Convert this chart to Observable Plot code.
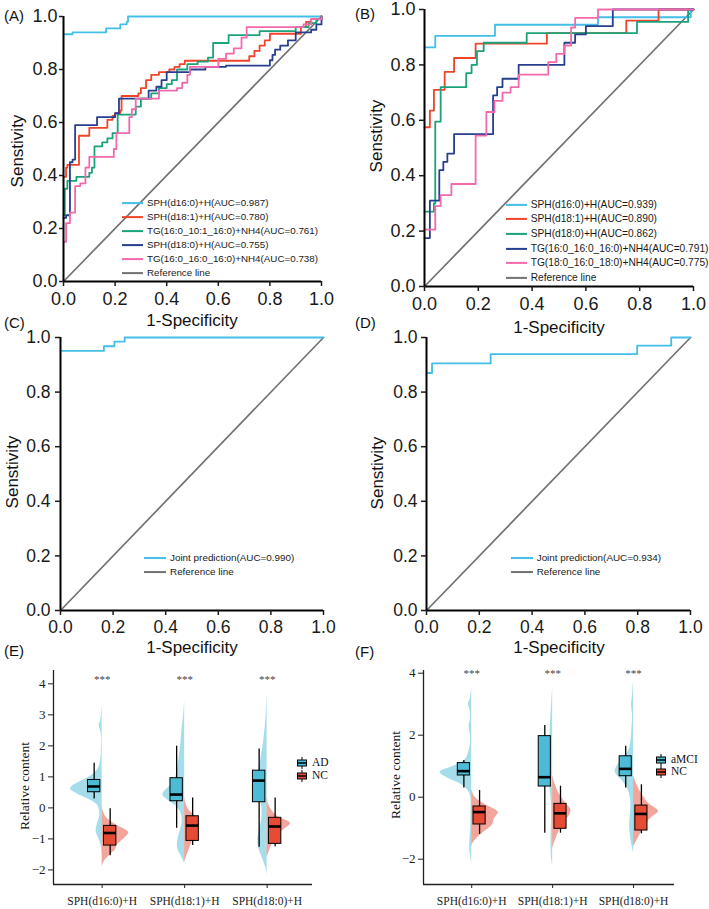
<!DOCTYPE html>
<html><head><meta charset="utf-8">
<script src="https://cdn.jsdelivr.net/npm/d3@7"></script>
<script src="https://cdn.jsdelivr.net/npm/@observablehq/plot@0.6"></script>
<style>
body{margin:0;background:#fff;}
#root{position:relative;width:709px;height:909px;overflow:hidden;background:#fff;}
.abs{position:absolute;white-space:nowrap;line-height:1;}
.psvg{position:absolute;max-width:none !important;}
</style></head>
<body><div id="root"></div>
<script>
// ---------------- DATA ----------------
const rocTicks = [0, 0.2, 0.4, 0.6, 0.8, 1.0];
const refLine = [[0, 0], [1, 1]];
const refName = "Reference line";

// Panel A ROC: [1-specificity, sensitivity] step corners
const aSph160 = [[0,0.933],[0.035,0.94],[0.165,0.955],[0.22,0.97],[0.245,0.98],[0.25,1],[1,1]];
const aSph181 = [[0,0.395],[0.01,0.43],[0.015,0.44],[0.06,0.55],[0.1,0.58],[0.17,0.61],[0.19,0.625],[0.2,0.635],[0.22,0.645],[0.225,0.70],[0.29,0.71],[0.3,0.73],[0.32,0.76],[0.34,0.78],[0.37,0.79],[0.41,0.80],[0.43,0.81],[0.45,0.82],[0.47,0.833],[0.72,0.85],[0.74,0.87],[0.76,0.89],[0.78,0.91],[0.8,0.935],[0.92,0.96],[0.94,0.98],[0.96,0.99],[1,1]];
const aTg16101 = [[0,0.25],[0.005,0.35],[0.015,0.38],[0.05,0.395],[0.1,0.41],[0.11,0.43],[0.12,0.51],[0.15,0.525],[0.17,0.54],[0.19,0.56],[0.21,0.63],[0.28,0.66],[0.3,0.69],[0.34,0.71],[0.37,0.73],[0.4,0.745],[0.42,0.76],[0.44,0.80],[0.48,0.82],[0.52,0.83],[0.56,0.845],[0.58,0.90],[0.64,0.93],[0.76,0.945],[0.9,0.96],[0.95,0.975],[0.98,0.99],[1,1]];
const aSph180 = [[0,0.24],[0.01,0.25],[0.025,0.45],[0.035,0.46],[0.045,0.59],[0.13,0.62],[0.2,0.635],[0.215,0.69],[0.33,0.72],[0.36,0.735],[0.38,0.76],[0.4,0.79],[0.49,0.80],[0.55,0.81],[0.63,0.815],[0.8,0.835],[0.81,0.855],[0.82,0.875],[0.84,0.89],[0.87,0.91],[0.9,0.94],[0.96,0.95],[0.98,0.97],[1,1]];
const aTg16160 = [[0,0.15],[0.01,0.22],[0.025,0.26],[0.045,0.36],[0.065,0.37],[0.085,0.43],[0.1,0.47],[0.195,0.50],[0.205,0.56],[0.255,0.62],[0.265,0.65],[0.28,0.69],[0.37,0.72],[0.44,0.73],[0.46,0.75],[0.48,0.78],[0.49,0.81],[0.6,0.84],[0.63,0.86],[0.66,0.88],[0.69,0.92],[0.71,0.96],[0.93,0.97],[0.96,0.99],[1,1]];
const namesA = ["SPH(d16:0)+H", "SPH(d18:1)+H", "TG(16:0_10:1_16:0)+NH4", "SPH(d18:0)+H", "TG(16:0_16:0_16:0)+NH4"];
const aucA = [0.987, 0.780, 0.761, 0.755, 0.738];

// Panel B ROC
const bSph160 = [[0,0.863],[0.04,0.905],[0.262,0.945],[0.645,0.972],[0.99,1],[1,1]];
const bSph181 = [[0,0.575],[0.02,0.635],[0.035,0.71],[0.075,0.775],[0.11,0.825],[0.19,0.877],[0.455,0.915],[0.75,0.96],[0.87,1],[1,1]];
const bSph180 = [[0,0.27],[0.035,0.30],[0.04,0.595],[0.06,0.72],[0.155,0.77],[0.175,0.80],[0.195,0.85],[0.22,0.88],[0.38,0.915],[0.79,0.955],[0.98,1],[1,1]];
const bTg16160 = [[0,0.175],[0.02,0.31],[0.055,0.42],[0.07,0.45],[0.085,0.48],[0.11,0.55],[0.255,0.69],[0.27,0.72],[0.29,0.75],[0.35,0.80],[0.52,0.88],[0.56,0.91],[0.6,0.94],[0.7,1],[1,1]];
const bTg18160 = [[0,0.205],[0.04,0.29],[0.06,0.33],[0.1,0.37],[0.19,0.545],[0.23,0.63],[0.26,0.67],[0.29,0.70],[0.32,0.72],[0.35,0.765],[0.46,0.81],[0.49,0.84],[0.52,0.87],[0.545,0.935],[0.56,0.97],[0.645,1],[1,1]];
const namesB = ["SPH(d16:0)+H", "SPH(d18:1)+H", "SPH(d18:0)+H", "TG(16:0_16:0_16:0)+NH4", "TG(18:0_16:0_18:0)+NH4"];
const aucB = [0.939, 0.890, 0.862, 0.791, 0.775];

// Panels C, D joint prediction
const cJoint = [[0,0.951],[0.165,0.968],[0.205,0.985],[0.244,1],[1,1]];
const dJoint = [[0,0.87],[0.021,0.905],[0.243,0.939],[0.798,0.97],[0.927,1],[1,1]];
const jointName = "Joint prediction";
const aucC = 0.990, aucD = 0.934;

// Panels E, F raincloud
const boxCats = ["SPH(d16:0)+H", "SPH(d18:1)+H", "SPH(d18:0)+H"];
const sigLabels = ["***", "***", "***"];
const groupsE = ["AD", "NC"];
const groupsF = ["aMCI", "NC"];
const yTicksE = [-2, -1, 0, 1, 2, 3, 4];
const yTicksF = [-2, 0, 2, 4];
// box stats: [lower whisker, q1, median, q3, upper whisker]
const boxE_AD = [[0.29,0.505,0.69,0.90,1.44],[-0.656,0.215,0.43,0.957,1.99],[-1.27,0.183,0.88,1.20,1.90]];
const boxE_NC = [[-1.54,-1.215,-0.81,-0.58,-0.03],[-1.215,-1.065,-0.57,-0.27,0.32],[-1.25,-1.16,-0.60,-0.32,0.32]];
const boxF_MCI = [[0.30,0.70,0.84,1.10,1.18],[-1.16,0.344,0.645,1.97,2.31],[0.30,0.677,0.914,1.32,1.645]];
const boxF_NC = [[-1.20,-0.88,-0.48,-0.30,0.215],[-1.16,-1.02,-0.52,-0.215,0.355],[-1.18,-1.075,-0.54,-0.27,0.40]];
// half-violin profiles: [value, relative density]
const violE_AD = [
  [[3.35,0],[3.0,0.02],[2.8,0.05],[2.65,0.09],[2.5,0.05],[2.3,0.02],[2.0,0.02],[1.6,0.04],[1.3,0.10],[1.1,0.25],[0.9,0.55],[0.7,0.90],[0.6,0.95],[0.45,0.75],[0.3,0.45],[0.1,0.15],[-0.1,0.08],[-0.3,0.08],[-0.55,0.15],[-0.75,0.18],[-0.95,0.12],[-1.15,0.05],[-1.4,0.01],[-1.55,0]],
  [[3.45,0],[3.0,0.03],[2.5,0.08],[2.0,0.12],[1.5,0.18],[1.2,0.22],[0.9,0.30],[0.7,0.45],[0.5,0.63],[0.4,0.65],[0.25,0.50],[0.05,0.25],[-0.2,0.10],[-0.5,0.08],[-0.8,0.15],[-1.0,0.20],[-1.2,0.22],[-1.4,0.18],[-1.6,0.08],[-1.8,0]],
  [[3.65,0],[3.2,0.02],[2.7,0.05],[2.2,0.10],[1.8,0.15],[1.4,0.22],[1.0,0.28],[0.6,0.25],[0.2,0.18],[-0.2,0.15],[-0.6,0.20],[-1.0,0.28],[-1.3,0.25],[-1.6,0.15],[-1.9,0.05],[-2.15,0]]
];
const violE_NC = [
  [[0.13,0],[0.0,0.01],[-0.1,0.03],[-0.3,0.12],[-0.5,0.35],[-0.65,0.60],[-0.8,0.80],[-0.95,0.70],[-1.1,0.55],[-1.2,0.45],[-1.35,0.40],[-1.5,0.25],[-1.7,0.08],[-1.9,0]],
  [[0.35,0],[0.1,0.05],[-0.1,0.15],[-0.3,0.35],[-0.5,0.45],[-0.7,0.40],[-0.9,0.30],[-1.1,0.22],[-1.3,0.15],[-1.5,0.08],[-1.75,0]],
  [[0.35,0],[0.1,0.05],[-0.1,0.15],[-0.3,0.35],[-0.5,0.70],[-0.7,0.50],[-0.9,0.30],[-1.1,0.18],[-1.3,0.10],[-1.5,0.03],[-1.6,0]]
];
const violF_MCI = [
  [[3.55,0],[3.2,0.04],[3.0,0.10],[2.8,0.05],[2.5,0.04],[2.3,0.08],[2.0,0.04],[1.7,0.04],[1.5,0.08],[1.2,0.20],[1.0,0.55],[0.8,0.95],[0.6,0.70],[0.4,0.30],[0.2,0.10],[0,0.03],[-0.5,0.02],[-1.0,0.03],[-1.5,0.06],[-1.8,0.05],[-2.1,0]],
  [[3.55,0],[3.0,0.03],[2.5,0.06],[2.0,0.08],[1.5,0.10],[1.0,0.12],[0.5,0.10],[0,0.05],[-0.5,0.03],[-1.0,0.04],[-1.5,0.05],[-2.0,0.03],[-2.2,0]],
  [[3.75,0],[3.3,0.03],[3.0,0.06],[2.6,0.03],[2.2,0.05],[1.8,0.08],[1.5,0.15],[1.2,0.35],[1.0,0.50],[0.8,0.55],[0.6,0.40],[0.4,0.25],[0.2,0.15],[0,0.10],[-0.3,0.08],[-0.6,0.10],[-0.9,0.12],[-1.2,0.10],[-1.5,0.06],[-1.8,0]]
];
const violF_NC = [
  [[0.25,0],[0,0.10],[-0.2,0.35],[-0.4,0.70],[-0.5,0.80],[-0.7,0.68],[-0.9,0.62],[-1.1,0.40],[-1.3,0.18],[-1.5,0.03],[-1.6,0]],
  [[0.7,0],[0.4,0.08],[0.1,0.20],[-0.2,0.40],[-0.4,0.55],[-0.6,0.50],[-0.8,0.35],[-1.0,0.25],[-1.2,0.15],[-1.4,0.08],[-1.65,0]],
  [[0.7,0],[0.4,0.10],[0.1,0.25],[-0.2,0.45],[-0.45,0.75],[-0.65,0.55],[-0.9,0.35],[-1.1,0.25],[-1.3,0.15],[-1.5,0.05],[-1.6,0]]
];

// ---------------- STYLE ----------------
const SANS = '"Liberation Sans", Arial, sans-serif';
const SERIF = '"Liberation Serif", "Times New Roman", serif';
const C_CYAN = "#42BEE8", C_RED = "#F0442A", C_GREEN = "#1AA27B", C_NAVY = "#283E8E", C_PINK = "#F26AAC", C_REF = "#727272";
const BLUE = "#4DBBD5", REDB = "#E64B35";

const root = document.getElementById("root");

function text(str, x, y, o = {}) {
  const d = document.createElement("div");
  d.className = "abs";
  d.textContent = str;
  d.style.left = x + "px"; d.style.top = y + "px";
  d.style.fontSize = (o.size || 17) + "px";
  d.style.fontFamily = o.family || SANS;
  d.style.color = o.color || "#111";
  const tx = o.anchor === "start" ? "0" : "-50%";
  d.style.transform = `translate(${tx},-50%)` + (o.rotate ? " rotate(-90deg)" : "");
  root.appendChild(d);
}

function legendLine(x, y, color, label, len, gap, size) {
  const d = document.createElement("div");
  d.className = "abs";
  d.style.left = x + "px"; d.style.top = y + "px";
  d.style.transform = "translateY(-50%)";
  d.style.display = "flex"; d.style.alignItems = "center";
  const ln = document.createElement("span");
  ln.style.display = "inline-block"; ln.style.width = len + "px"; ln.style.height = "2px";
  ln.style.background = color; ln.style.marginRight = gap + "px";
  const t = document.createElement("span");
  t.textContent = label; t.style.fontSize = size + "px"; t.style.fontFamily = SANS; t.style.color = "#1a1a1a";
  d.appendChild(ln); d.appendChild(t);
  root.appendChild(d);
}

function legendBox(x, y, color, label) {
  const d = document.createElement("div");
  d.className = "abs";
  d.style.left = x + "px"; d.style.top = y + "px";
  d.style.transform = "translateY(-50%)";
  d.style.display = "flex"; d.style.alignItems = "center";
  d.innerHTML = `<svg width="10" height="12" style="margin-right:5px;display:block"><line x1="5" x2="5" y1="0" y2="12" stroke="#000" stroke-width="1"/><rect x="0.5" y="3" width="9" height="6" fill="${color}" stroke="#000" stroke-width="1"/><line x1="0.5" x2="9.5" y1="6" y2="6" stroke="#000" stroke-width="1.5"/></svg>`;
  const t = document.createElement("span");
  t.textContent = label; t.style.fontSize = "11.5px"; t.style.fontFamily = SERIF; t.style.color = "#111";
  d.appendChild(t);
  root.appendChild(d);
}

function mount(svg, left, top, w, h) {
  svg.classList.add("psvg");
  svg.style.left = left + "px"; svg.style.top = top + "px";
  svg.style.width = w + "px"; svg.style.height = h + "px";
  svg.style.maxWidth = "none";
  root.appendChild(svg);
}

function rocPanel(cfg) {
  const marks = [
    Plot.line(refLine, {x: d => d[0], y: d => d[1], stroke: C_REF, strokeWidth: 1.7}),
    ...cfg.series.map(s => Plot.line(s.pts, {x: d => d[0], y: d => d[1], curve: "step-after", stroke: s.color, strokeWidth: 1.8})),
    Plot.ruleX([0], {stroke: "#000", strokeWidth: 2}),
    Plot.ruleY([0], {stroke: "#000", strokeWidth: 2}),
    Plot.axisX({ticks: rocTicks, tickFormat: d3.format(".1f"), tickSize: 5, tickPadding: cfg.xPad, fontSize: cfg.font, label: null, strokeWidth: 1.5}),
    Plot.axisY({ticks: rocTicks, tickFormat: d3.format(".1f"), tickSize: cfg.yTick, tickPadding: cfg.yPad, fontSize: cfg.font, label: null, strokeWidth: 1.5})
  ];
  const svg = Plot.plot({
    width: cfg.width, height: cfg.height,
    marginLeft: cfg.mL, marginRight: cfg.mR, marginTop: cfg.mT, marginBottom: cfg.mB,
    x: {domain: [0, 1]}, y: {domain: [0, 1]},
    style: {background: "transparent", overflow: "visible", fontFamily: SANS, color: "#1a1a1a"},
    marks
  });
  mount(svg, cfg.left, cfg.top, cfg.width, cfg.height);
}

// ---------------- ROC PANELS ----------------
const colA = [C_CYAN, C_RED, C_GREEN, C_NAVY, C_PINK];
const ptsA = [aSph160, aSph181, aTg16101, aSph180, aTg16160];
const seriesA = ptsA.map((p, i) => ({pts: p, color: colA[i], label: `${namesA[i]}(AUC=${aucA[i].toFixed(3)})`}));
rocPanel({series: seriesA, left: 0, top: 0, width: 354, height: 335, mL: 63, mR: 33, mT: 16, mB: 54, font: 18, xPad: 5.5, yTick: 4, yPad: 2});

const colB = [C_CYAN, C_RED, C_GREEN, C_NAVY, C_PINK];
const ptsB = [bSph160, bSph181, bSph180, bTg16160, bTg18160];
const seriesB = ptsB.map((p, i) => ({pts: p, color: colB[i], label: `${namesB[i]}(AUC=${aucB[i].toFixed(3)})`}));
rocPanel({series: seriesB, left: 354, top: 0, width: 355, height: 335, mL: 70, mR: 16, mT: 9, mB: 49, font: 18, xPad: 5.5, yTick: 5, yPad: 4});

const seriesC = [{pts: cJoint, color: C_CYAN, label: `${jointName}(AUC=${aucC.toFixed(3)})`}];
rocPanel({series: seriesC, left: 0, top: 330, width: 354, height: 340, mL: 60, mR: 31, mT: 7, mB: 60, font: 17.5, xPad: 5, yTick: 5, yPad: 5});

const seriesD = [{pts: dJoint, color: C_CYAN, label: `${jointName}(AUC=${aucD.toFixed(3)})`}];
rocPanel({series: seriesD, left: 354, top: 330, width: 355, height: 340, mL: 72, mR: 19, mT: 7, mB: 60, font: 17.5, xPad: 5, yTick: 5, yPad: 4});

function rocLegend(series, x, y0, step, len, gap, size) {
  series.forEach((s, i) => legendLine(x, y0 + i * step, s.color, s.label, len, gap, size));
  legendLine(x, y0 + series.length * step, C_REF, refName, len, gap, size);
}
rocLegend(seriesA, 122, 202.7, 14.1, 21, 4, 9.8);
rocLegend(seriesB, 505.7, 204.7, 14.6, 21, 4, 10.2);
rocLegend(seriesC, 144, 557.7, 14.6, 22, 4, 9.9);
rocLegend(seriesD, 510.7, 557.7, 14.6, 22, 4, 9.9);

text("Senstivity", 17, 151, {rotate: true});
text("1-Specificity", 192, 320);
text("Senstivity", 376, 136, {rotate: true});
text("1-Specificity", 559, 327);
text("Senstivity", 12, 472, {rotate: true});
text("1-Specificity", 192, 647);
text("Senstivity", 377, 473, {rotate: true});
text("1-Specificity", 559, 647);
text("(A)", 4, 15, {size: 15, anchor: "start"});
text("(B)", 355, 13, {size: 15, anchor: "start"});
text("(C)", 4, 322, {size: 15, anchor: "start"});
text("(D)", 355, 322, {size: 15, anchor: "start"});
text("(E)", 4, 650, {size: 15, anchor: "start"});
text("(F)", 355, 651, {size: 15, anchor: "start"});

// ---------------- RAINCLOUD PANELS ----------------
function rainPanel(cfg) {
  const k = cfg.violScale, off = 0.097, bw = 0.15;
  const vRows = (profiles, g) => profiles.flatMap((p, i) => p.map(([v, d]) => ({cat: i + 1, g, v, d})));
  const bRows = (stats) => stats.map((s, i) => ({cat: i + 1, lo: s[0], q1: s[1], med: s[2], q3: s[3], hi: s[4]}));
  const vA = vRows(cfg.violA, 0), vB = vRows(cfg.violB, 1);
  const bA = bRows(cfg.boxA), bB = bRows(cfg.boxB);
  const boxMarks = (rows, sgn, fill) => [
    Plot.ruleX(rows, {x: r => r.cat + sgn * off, y1: "lo", y2: "hi", stroke: "#000", strokeWidth: 1.3}),
    Plot.rect(rows, {x1: r => r.cat + sgn * off - bw / 2, x2: r => r.cat + sgn * off + bw / 2, y1: "q1", y2: "q3", fill, stroke: "#000", strokeWidth: 1}),
    Plot.ruleY(rows, {y: "med", x1: r => r.cat + sgn * off - bw / 2, x2: r => r.cat + sgn * off + bw / 2, stroke: "#000", strokeWidth: 2.6})
  ];
  const svg = Plot.plot({
    width: cfg.width, height: cfg.height,
    marginLeft: cfg.mL, marginRight: cfg.mR, marginTop: cfg.mT, marginBottom: cfg.mB,
    x: {domain: cfg.xDom}, y: {domain: cfg.yDom},
    style: {background: "transparent", overflow: "visible", fontFamily: SERIF, color: "#222"},
    marks: [
      Plot.areaX(vA, {y: "v", x1: "cat", x2: r => r.cat - r.d * k, z: "cat", fill: BLUE, fillOpacity: 0.5, curve: "catmull-rom"}),
      Plot.areaX(vB, {y: "v", x1: "cat", x2: r => r.cat + r.d * k, z: "cat", fill: REDB, fillOpacity: 0.5, curve: "catmull-rom"}),
      ...boxMarks(bA, -1, BLUE),
      ...boxMarks(bB, 1, REDB),
      Plot.text(sigLabels, {x: (d, i) => i + 1, frameAnchor: "top", dy: cfg.starDy, text: d => d, fontSize: 11, fill: "#444"}),
      Plot.ruleX([cfg.xDom[0]], {stroke: "#222", strokeWidth: 1.3}),
      Plot.ruleY([cfg.yDom[0]], {stroke: "#222", strokeWidth: 1.3}),
      Plot.axisX({ticks: [1, 2, 3], tickFormat: i => boxCats[i - 1], tickSize: 4, tickPadding: 8, fontSize: 11.5, label: null}),
      Plot.axisY({ticks: cfg.yTicks, tickFormat: d3.format("d"), tickSize: 5, tickPadding: 3, fontSize: 13, label: null})
    ]
  });
  mount(svg, cfg.left, cfg.top, cfg.width, cfg.height);
}

rainPanel({left: 0, top: 660, width: 354, height: 249, mL: 53, mR: 42, mT: 10, mB: 25,
  xDom: [0.41, 3.55], yDom: [-2.47, 4.43], yTicks: yTicksE, violScale: 0.404, starDy: 5,
  violA: violE_AD, violB: violE_NC, boxA: boxE_AD, boxB: boxE_NC});
rainPanel({left: 354, top: 660, width: 355, height: 249, mL: 69, mR: 35, mT: 10, mB: 25,
  xDom: [0.404, 3.506], yDom: [-2.816, 4.087], yTicks: yTicksF, violScale: 0.411, starDy: -1,
  violA: violF_MCI, violB: violF_NC, boxA: boxF_MCI, boxB: boxF_NC});

text("Relative content", 25, 786, {rotate: true, size: 13.5, family: SERIF});
text("Relative content", 396, 775, {rotate: true, size: 13.5, family: SERIF});
legendBox(297, 763, BLUE, groupsE[0]);
legendBox(297, 775.5, REDB, groupsE[1]);
legendBox(656, 759.5, BLUE, groupsF[0]);
legendBox(656, 772, REDB, groupsF[1]);
</script>
</body></html>
